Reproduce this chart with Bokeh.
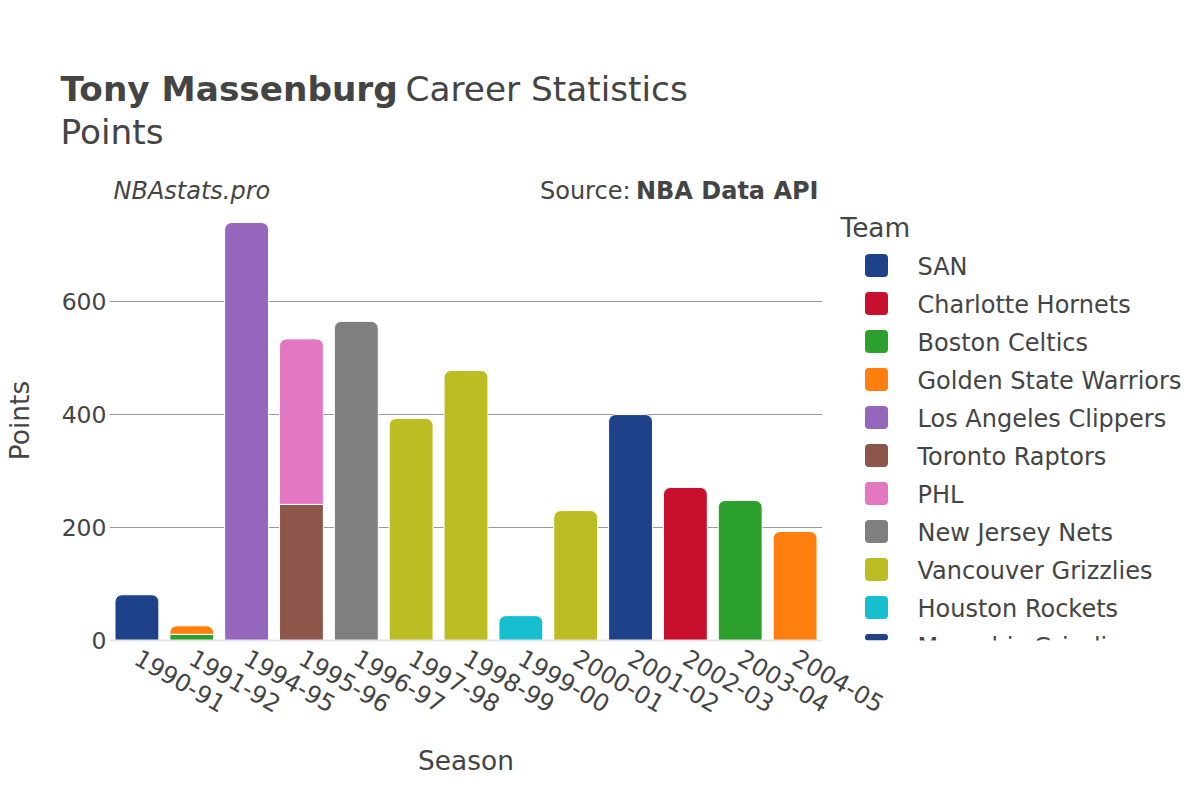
import math
from bokeh.plotting import figure
from bokeh.models import ColumnDataSource, FactorRange, Range1d, FixedTicker
from bokeh.embed import file_html
from bokeh.resources import INLINE
from bokeh.core.properties import value

seasons = ["1990-91", "1991-92", "1994-95", "1995-96", "1996-97", "1997-98", "1998-99",
           "1999-00", "2000-01", "2001-02", "2002-03", "2003-04", "2004-05"]
teams = ["SAN", "Charlotte Hornets", "Boston Celtics", "Golden State Warriors",
         "Los Angeles Clippers", "Toronto Raptors", "PHL", "New Jersey Nets",
         "Vancouver Grizzlies", "Houston Rockets", "Memphis Grizzlies"]
team_colors = ["#1d428a", "#c8102e", "#2ca02c", "#ff7f0e", "#9467bd", "#8c564b",
               "#e377c2", "#7f7f7f", "#bcbd22", "#17becf", "#1d428a"]

row_season = ["1990-91", "1991-92", "1991-92", "1994-95", "1995-96", "1995-96", "1996-97",
              "1997-98", "1998-99", "1999-00", "2000-01", "2001-02", "2002-03", "2003-04",
              "2004-05"]
row_team = ["SAN", "Boston Celtics", "Golden State Warriors", "Los Angeles Clippers",
            "Toronto Raptors", "PHL", "New Jersey Nets", "Vancouver Grizzlies",
            "Vancouver Grizzlies", "Houston Rockets", "Vancouver Grizzlies",
            "Memphis Grizzlies", "Charlotte Hornets", "Boston Celtics",
            "Golden State Warriors"]
row_points = [81, 11, 15, 740, 241, 293, 565, 393, 478, 44, 230, 400, 271, 248, 193]

y_ticks = [0, 200, 400, 600]
y_max = 779

FONT = "DejaVu Sans"
TXT = "#444444"

# ---- stacking (trace order = team order) ----
order = sorted(range(len(row_points)),
               key=lambda i: (seasons.index(row_season[i]), teams.index(row_team[i])))
cum = {}
last_in_season = {}
recs = []
for i in order:
    s = row_season[i]
    b = cum.get(s, 0)
    t = b + row_points[i]
    cum[s] = t
    recs.append((s, b, t, team_colors[teams.index(row_team[i])]))
    last_in_season[s] = len(recs) - 1

top_idx = set(last_in_season.values())
def make_src(sel):
    return ColumnDataSource(dict(
        x=[recs[k][0] for k in sel], bottom=[recs[k][1] for k in sel],
        top=[recs[k][2] for k in sel], color=[recs[k][3] for k in sel]))

src_top = make_src([k for k in range(len(recs)) if k in top_idx])
src_mid = make_src([k for k in range(len(recs)) if k not in top_idx])

W, H = 1200, 800
p = figure(x_range=FactorRange(*seasons), y_range=Range1d(0, y_max),
           width=W, height=H, output_backend="svg", toolbar_location=None,
           min_border_left=108, min_border_right=378, min_border_top=200,
           min_border_bottom=160)
p.outline_line_color = None
p.background_fill_color = "white"
p.border_fill_color = "white"

p.vbar(x="x", bottom="bottom", top="top", width=0.8, source=src_mid,
       fill_color="color", line_color="white", line_width=1)
p.vbar(x="x", bottom="bottom", top="top", width=0.8, source=src_top,
       fill_color="color", line_color="white", line_width=1,
       border_radius=(7, 7, 0, 0))

p.xgrid.grid_line_color = None
p.ygrid.ticker = FixedTicker(ticks=[t for t in y_ticks if t > 0])
p.ygrid.grid_line_color = "#9a9a9a"
p.ygrid.grid_line_width = 1

p.yaxis.ticker = FixedTicker(ticks=y_ticks)
p.yaxis.axis_line_color = None
p.yaxis.major_tick_line_color = None
p.yaxis.minor_tick_line_color = None
p.yaxis.major_label_standoff = -3
p.yaxis.major_label_text_font = FONT
p.yaxis.major_label_text_font_size = "23.5px"
p.yaxis.major_label_text_color = TXT
p.yaxis.axis_label = "Points"
p.yaxis.axis_label_text_font = FONT
p.yaxis.axis_label_text_font_size = "26.4px"
p.yaxis.axis_label_text_font_style = "normal"
p.yaxis.axis_label_text_color = TXT
p.yaxis.axis_label_standoff = 24

p.xaxis.axis_line_color = "#e6e6e6"
p.xaxis.axis_line_width = 2
p.xaxis.major_tick_line_color = None
p.xaxis.minor_tick_line_color = None
p.xaxis.major_label_orientation = -math.pi / 6
p.xaxis.major_label_standoff = 9
p.xaxis.major_label_text_font = FONT
p.xaxis.major_label_text_font_size = "24px"
p.xaxis.major_label_text_color = TXT
p.xaxis.axis_label = "Season"
p.xaxis.axis_label_text_font = FONT
p.xaxis.axis_label_text_font_size = "26.4px"
p.xaxis.axis_label_text_font_style = "normal"
p.xaxis.axis_label_text_color = TXT
p.xaxis.axis_label_standoff = 21

# ---- transparent overlay for titles and legend (page-pixel coordinates) ----
# its plot area ends at the main plot-area bottom, which clips the legend like the reference
ov = figure(width=W, height=H, x_range=Range1d(0, W), y_range=Range1d(640, 0),
            x_axis_type=None, y_axis_type=None, toolbar_location=None,
            output_backend="svg", min_border_left=0, min_border_right=0,
            min_border_top=0, min_border_bottom=160,
            styles={"position": "absolute", "top": "0px", "left": "0px"})
ov.outline_line_color = None
ov.background_fill_alpha = 0
ov.border_fill_alpha = 0

K = 0.33  # text box offset of the rendered alphabetic baseline, in em

def txt(text, x, base, size, style="normal", align="left"):
    ov.text(x=[x], y=[base - K * size], text=[text], text_font=value(FONT),
            text_font_size=f"{size}px", text_font_style=style, text_color=TXT,
            text_align=align, text_baseline="alphabetic")

txt("Tony Massenburg", 60, 100, 34.3, "bold")
txt("Career Statistics", 405, 100, 34.3)
txt("Points", 60, 143, 34.3)
txt("NBAstats.pro", 113, 198, 24, "italic")
txt("Source:", 630, 198, 24, align="right")
txt("NBA Data API", 818, 198, 24, "bold", align="right")

txt("Team", 840, 236, 26.4)
leg_c = [265 + 38 * i for i in range(len(teams))]
ov.vbar(x=[876] * len(teams), width=23, top=[c - 11.5 for c in leg_c],
        bottom=[c + 11.5 for c in leg_c], fill_color=team_colors, line_color=None,
        border_radius=4)
ov.text(x=[917] * len(teams), y=[c + 9 - K * 24 for c in leg_c], text=teams,
        text_font=value(FONT), text_font_size="24px", text_color=TXT,
        text_baseline="alphabetic")

open("out.html", "w").write(file_html([p, ov], INLINE))
